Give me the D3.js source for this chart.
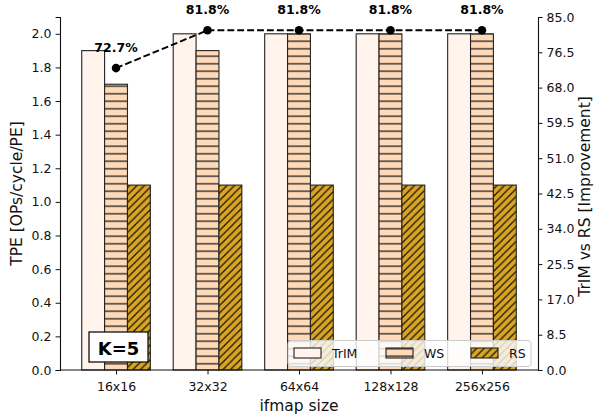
<!DOCTYPE html>
<html><head><meta charset="utf-8">
<script src="https://cdn.jsdelivr.net/npm/d3@7"></script>
<style>body{margin:0;background:#fff}svg{display:block;font-family:"DejaVu Sans",sans-serif}</style>
</head><body>
<svg id="c" width="595" height="416"></svg>
<script>
const categories = ["16x16","32x32","64x64","128x128","256x256"];
const seriesNames = ["TrIM","WS","RS"];
const trim = [1.9,2.0,2.0,2.0,2.0];
const ws = [1.7,1.9,2.0,2.0,2.0];
const rs = [1.1,1.1,1.1,1.1,1.1];
const improvement = [72.7,81.8,81.8,81.8,81.8];
const leftTicks = [0,0.2,0.4,0.6,0.8,1.0,1.2,1.4,1.6,1.8,2.0];
const rightTicks = [0,8.5,17,25.5,34,42.5,51,59.5,68,76.5,85];

const svg = d3.select("#c");
const L=60, R=538, T=17, B=370;
const defs = svg.append("defs");
const hs = 7.5;
const ph = defs.append("pattern").attr("id","hws").attr("patternUnits","userSpaceOnUse").attr("width",hs).attr("height",hs);
ph.append("rect").attr("width",hs).attr("height",hs).attr("fill","#ffdab9");
ph.append("line").attr("x1",0).attr("x2",hs).attr("y1",hs/2).attr("y2",hs/2).attr("stroke","#111").attr("stroke-width",1.2);
const pd = defs.append("pattern").attr("id","hrs").attr("patternUnits","userSpaceOnUse").attr("width",hs).attr("height",hs);
pd.append("rect").attr("width",hs).attr("height",hs).attr("fill","#daa520");
pd.append("path").attr("d",`M0,${hs}L${hs},0M-2,2L2,-2M${hs-2},${hs+2}L${hs+2},${hs-2}`).attr("stroke","#111").attr("stroke-width",1.2);

const fills = ["#fff3ec","url(#hws)","url(#hrs)"];
const data = [trim, ws, rs];

const n = categories.length;
const step = (R-L)/((n-1+0.75)*1.1);
const margin = 0.05*((n-1+0.75)*step);
const x0 = L + margin + 0.375*step;
const xc = d3.scaleLinear().domain([0,n-1]).range([x0, x0+(n-1)*step]);
const bw = step*0.25;

const y = d3.scaleLinear().domain([0,2.1]).range([B,T]);
const y2 = d3.scaleLinear().domain([0,85]).range([B,T]);

data.forEach((arr,si)=>{
  svg.append("g").selectAll("rect").data(arr).join("rect")
    .attr("x",(d,i)=>xc(i)+(si-1)*bw-bw/2)
    .attr("y",d=>y(d))
    .attr("width",bw)
    .attr("height",d=>B-y(d))
    .attr("fill",fills[si])
    .attr("stroke","#222").attr("stroke-width",1.1);
});

const tl = 4.4;
const gl = svg.append("g").attr("transform",`translate(${L},0)`)
  .call(d3.axisLeft(y).tickValues(leftTicks).tickFormat(d3.format(".1f")).tickSizeOuter(0).tickSize(tl));
const gr = svg.append("g").attr("transform",`translate(${R},0)`)
  .call(d3.axisRight(y2).tickValues(rightTicks).tickFormat(d3.format(".1f")).tickSizeOuter(0).tickSize(tl));
const gb = svg.append("g").attr("transform",`translate(0,${B})`)
  .call(d3.axisBottom(d3.scalePoint().domain(categories).range([xc(0),xc(n-1)])).tickSizeOuter(0).tickSize(tl));
gb.select(".domain").attr("d",`M${L},0H${R}`);
[gl,gr,gb].forEach(g=>{
  g.selectAll("text").attr("font-size",12.5).attr("fill","#111").attr("font-family","DejaVu Sans");
  g.selectAll("line").attr("stroke","#111").attr("stroke-width",1);
  g.select(".domain").attr("stroke","#111").attr("stroke-width",1.1);
});
gb.selectAll("text").attr("y",9).attr("dy","0.95em");
gl.selectAll("text").attr("x",-8.6);
gr.selectAll("text").attr("x",8.6);

svg.append("text").attr("x",(L+R)/2).attr("y",411).attr("text-anchor","middle").attr("font-size",15.5).attr("fill","#111").text("ifmap size");
svg.append("text").attr("transform",`translate(22,${(T+B)/2}) rotate(-90)`).attr("text-anchor","middle").attr("font-size",15.5).attr("fill","#111").text("TPE [OPs/cycle/PE]");
svg.append("text").attr("transform",`translate(590,${(T+B)/2+3}) rotate(-90)`).attr("text-anchor","middle").attr("font-size",15.5).attr("fill","#111").text("TrIM vs RS [Improvement]");

const line = d3.line().x((d,i)=>xc(i)).y(d=>y2(d));
svg.append("path").datum(improvement).attr("d",line).attr("fill","none").attr("stroke","#000").attr("stroke-width",1.9).attr("stroke-dasharray","6.9,3");
svg.append("g").selectAll("circle").data(improvement).join("circle")
  .attr("cx",(d,i)=>xc(i)).attr("cy",d=>y2(d)).attr("r",4.3).attr("fill","#000");
svg.append("g").selectAll("text").data(improvement).join("text")
  .attr("x",(d,i)=>xc(i)).attr("y",d=>y2(d)-16).attr("text-anchor","middle")
  .attr("font-size",12.5).attr("font-weight","bold").attr("fill","#000").text(d=>d.toFixed(1)+"%");

const lg = svg.append("g");
lg.append("rect").attr("x",288).attr("y",340.5).attr("width",243).attr("height",26).attr("rx",3)
  .attr("fill","#fff").attr("fill-opacity",0.8).attr("stroke","#ccc").attr("stroke-width",1);
const lx = [294,386,471];
seriesNames.forEach((s,i)=>{
  lg.append("rect").attr("x",lx[i]).attr("y",348).attr("width",27).attr("height",10)
    .attr("fill",fills[i]).attr("stroke","#222").attr("stroke-width",1.1);
  lg.append("text").attr("x",lx[i]+38).attr("y",358).attr("font-size",12.5).attr("fill","#111").text(s);
});

svg.append("rect").attr("x",89).attr("y",332).attr("width",59).attr("height",30).attr("fill","#fff").attr("stroke","#111").attr("stroke-width",1.3);
svg.append("text").attr("x",118.5).attr("y",354.5).attr("text-anchor","middle").attr("font-size",18).attr("font-weight","bold").attr("fill","#000").text("K=5");
</script>
</body></html>
